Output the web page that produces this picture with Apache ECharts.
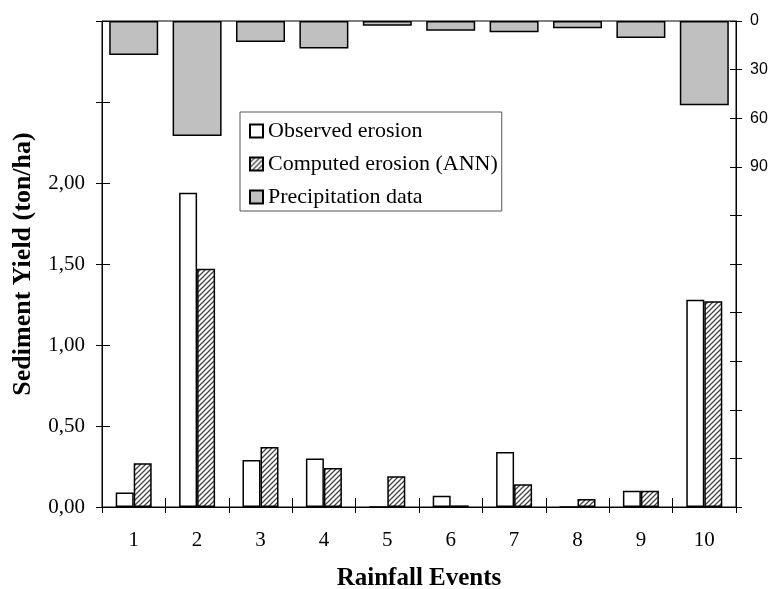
<!DOCTYPE html>
<html>
<head>
<meta charset="utf-8">
<script src="https://cdn.jsdelivr.net/npm/echarts@6/dist/echarts.min.js"></script>
<style>
html, body { margin: 0; padding: 0; background: #fff; }
#chart { width: 772px; height: 589px; }
</style>
</head>
<body>
<div id="chart"></div>
<script type="text/javascript">
var events = ['1', '2', '3', '4', '5', '6', '7', '8', '9', '10'];
var observed = [0.09, 1.94, 0.29, 0.30, 0, 0.07, 0.34, 0, 0.10, 1.28];
var computed = [0.27, 1.47, 0.37, 0.24, 0.19, 0.01, 0.14, 0.05, 0.10, 1.27];
var precipitation = [21, 71, 13, 17, 3, 6, 7, 4.5, 10.5, 52];

// hatch fill for the ANN bars
var hatch = document.createElement('canvas');
hatch.width = 5;
hatch.height = 5;
var ctx = hatch.getContext('2d');
ctx.fillStyle = '#fff';
ctx.fillRect(0, 0, 5, 5);
ctx.strokeStyle = '#444';
ctx.lineWidth = 1.3;
ctx.beginPath();
ctx.moveTo(-1, 6); ctx.lineTo(6, -1);
ctx.moveTo(-1, 1); ctx.lineTo(1, -1);
ctx.moveTo(4, 6); ctx.lineTo(6, 4);
ctx.stroke();

var serif = 'Liberation Serif';
var blackLine = {show: true, lineStyle: {color: '#000', width: 1}};
var gridBox = {left: 102, right: 36, top: 21, bottom: 82, outerBoundsMode: 'none', containLabel: false};

var option = {
    backgroundColor: '#fff',
    animation: false,
    // two grids on the same rect: the second one carries the inner half of the ticks
    grid: [
        Object.assign({show: true, borderColor: '#000', borderWidth: 1}, gridBox),
        Object.assign({}, gridBox)
    ],
    legend: {
        orient: 'vertical',
        left: 240,
        top: 112,
        padding: [8, 4, 3, 9],
        itemGap: 11,
        itemWidth: 13,
        itemHeight: 13,
        icon: 'rect',
        backgroundColor: '#fff',
        borderColor: '#555',
        borderWidth: 1,
        borderRadius: 0,
        textStyle: {fontFamily: serif, fontSize: 22, lineHeight: 22, color: '#000'},
        data: ['Observed erosion', 'Computed erosion (ANN)', 'Precipitation data']
    },
    xAxis: [
        {
            type: 'category',
            gridIndex: 0,
            data: events,
            position: 'bottom',
            name: 'Rainfall Events',
            nameLocation: 'middle',
            nameGap: 59,
            nameTextStyle: {fontFamily: serif, fontSize: 25, fontWeight: 'bold', color: '#000'},
            axisLine: blackLine,
            axisTick: {show: true, length: 6, lineStyle: {color: '#000'}},
            axisLabel: {fontFamily: serif, fontSize: 21, color: '#000', margin: 23},
            splitLine: {show: false}
        },
        {
            type: 'category',
            gridIndex: 1,
            data: events,
            position: 'bottom',
            axisLine: {show: false},
            axisTick: {show: true, inside: true, length: 9, lineStyle: {color: '#000'}},
            axisLabel: {show: false},
            splitLine: {show: false}
        }
    ],
    yAxis: [
        {
            type: 'value',
            gridIndex: 0,
            position: 'left',
            min: 0, max: 3, interval: 0.5,
            name: 'Sediment Yield (ton/ha)',
            nameLocation: 'middle',
            nameGap: 66,
            nameTextStyle: {fontFamily: serif, fontSize: 26, fontWeight: 'bold', color: '#000'},
            axisLine: blackLine,
            axisTick: {show: true, length: 6, lineStyle: {color: '#000'}},
            axisLabel: {
                fontFamily: serif, fontSize: 21, color: '#000', margin: 17,
                formatter: function (v) { return v <= 2 ? v.toFixed(2).replace('.', ',') : ''; }
            },
            splitLine: {show: false}
        },
        {
            type: 'value',
            gridIndex: 0,
            position: 'right',
            inverse: true,
            min: 0, max: 300, interval: 30,
            axisLine: blackLine,
            axisTick: {show: true, length: 6, lineStyle: {color: '#000'}},
            axisLabel: {
                fontFamily: 'Liberation Sans', fontSize: 16, color: '#000', margin: 14,
                formatter: function (v) { return v <= 90 ? String(v) : ''; }
            },
            splitLine: {show: false}
        },
        {
            type: 'value',
            gridIndex: 1,
            position: 'left',
            min: 0, max: 3, interval: 0.5,
            axisLine: {show: false},
            axisTick: {show: true, inside: true, length: 8, lineStyle: {color: '#000'}},
            axisLabel: {show: false},
            splitLine: {show: false}
        },
        {
            type: 'value',
            gridIndex: 1,
            position: 'right',
            inverse: true,
            min: 0, max: 300, interval: 30,
            axisLine: {show: false},
            axisTick: {show: true, inside: true, length: 6, lineStyle: {color: '#000'}},
            axisLabel: {show: false},
            splitLine: {show: false}
        }
    ],
    series: [
        {
            name: 'Observed erosion',
            type: 'bar',
            xAxisIndex: 0,
            yAxisIndex: 0,
            barWidth: 18,
            barGap: '0%',
            itemStyle: {color: '#fff', borderColor: '#000', borderWidth: 1.5},
            data: observed
        },
        {
            name: 'Computed erosion (ANN)',
            type: 'bar',
            xAxisIndex: 0,
            yAxisIndex: 0,
            barWidth: 18,
            barGap: '0%',
            itemStyle: {color: {image: hatch, repeat: 'repeat'}, borderColor: '#000', borderWidth: 1.5},
            data: computed
        },
        {
            name: 'Precipitation data',
            type: 'bar',
            xAxisIndex: 1,
            yAxisIndex: 3,
            barWidth: 49,
            itemStyle: {color: '#c0c0c0', borderColor: '#000', borderWidth: 1.5},
            data: precipitation
        }
    ]
};

var myChart = echarts.init(document.getElementById('chart'), null, {renderer: 'canvas'});
myChart.setOption(option);
</script>
</body>
</html>
